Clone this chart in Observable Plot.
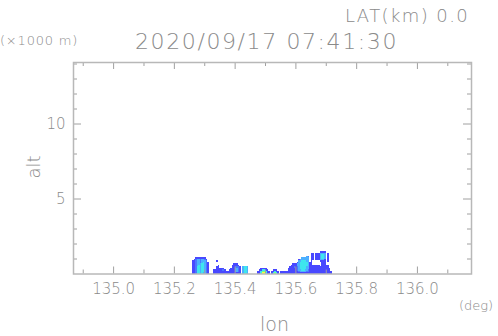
<!DOCTYPE html>
<html><head><meta charset="utf-8">
<script src="https://cdn.jsdelivr.net/npm/d3@7"></script>
<script src="https://cdn.jsdelivr.net/npm/@observablehq/plot@0.6"></script>
<style>
body{margin:0;background:#fff;}
#wrap{position:relative;width:498px;height:336px;font-family:"DejaVu Sans",sans-serif;font-weight:200;color:#8a8a8a;}
.t{position:absolute;white-space:nowrap;line-height:1;}
</style></head><body>
<div id="wrap"></div>
<script>
// ---- data ----
const titleText = "2020/09/17 07:41:30";
const latText = "LAT(km) 0.0";
const yUnit = "(\u00d71000 m)";
const xUnit = "(deg)";
const xLabel = "lon";
const yLabel = "alt";
const xDomain = [134.868, 136.178];
const yDomain = [0, 14.1];
const xMajor = [135.0, 135.2, 135.4, 135.6, 135.8, 136.0];
const xMinor = [134.9, 135.1, 135.3, 135.5, 135.7, 135.9, 136.1];
const yMajor = [5, 10];
const yMinor = [1, 2, 3, 4, 6, 7, 8, 9, 11, 12, 13, 14];
// reflectivity grid: each string is one column (top row = 1.5-1.6 km, bottom row = 0-0.1 km)
const lonStart = 135.25, lonStep = 0.005, altStep = 0.1, nRows = 16;
const levelColors = {"1":"#4848ff","2":"#4a78ff","3":"#4cb0ff","4":"#3ee6ee","5":"#70ff8c","6":"#f4ff40"};
const columns = [
"................","................",
".......111111111","......1111111111",".....12222222222",".....13333344444",".....13333444444",
".....12223333333",".....13334444444",".....13344444443",".....12333333333","......1222222222","........11111111",
"................","................","................",
".............111",".............111",".......1...11111","..........111111","............1111","............1111",
"............1211",".............111","..............11","..............11",".............111","............1111",
"..........111111",".........1111111",".........1123331",".........1123331","..........122221","...........11111",
"................",
"...........33333","...........44444","...........44444","...........33333",
"................","................","................","................","................","................",
"..............11",".............111","............1144","............1456","............1456","............1144",".............111","..............11",
"................",
"..............11",".............114",".............145",".............114","..............11",
"................",
"..............11","..............11","..............11","..............11","..............11",
"............1111","...........11111","..........111111",".........1111111",".........1121111",".........1111111",
"........13322211","......1333333321","......3344444331",".....33444444431",".....33444444431",".....33444444331",
"....333344433321","....233333333221",
"........11111111","..11111111111111","..11111...111111","..........111111","..11111...111111","..11111...111111",
"..11111...111111",".1333331...11111",".134443111111111",".134443111111111",".133331111111111",
"..........111111","..111111..111111","............1111","..............11",
"................","................"
];
// ---- build cells ----
const cells = [];
columns.forEach((col, i) => {
  const s = col.padEnd(nRows, ".");
  for (let r = 0; r < nRows; r++) {
    const c = s[r];
    if (c !== ".") cells.push({lon: lonStart + i * lonStep, alt: (nRows - 1 - r) * altStep, level: c});
  }
});
const W = 498, H = 336, mL = 73, mR = 27, mT = 62, mB = 62.5;
const frameH = H - mT - mB, frameW = W - mL - mR;
const axisColor = "#a0a0a0";
const plot = Plot.plot({
  width: W, height: H,
  marginLeft: mL, marginRight: mR, marginTop: mT, marginBottom: mB,
  style: {fontFamily: "DejaVu Sans, sans-serif", fontWeight: 200, color: "#8a8a8a", background: "#fff"},
  x: {domain: xDomain},
  y: {domain: yDomain},
  marks: [
    Plot.rect(cells, {x1: d => d.lon, x2: d => d.lon + lonStep, y1: d => d.alt, y2: d => d.alt + altStep,
      fill: d => levelColors[d.level], shapeRendering: "crispEdges"}),
    // inside ticks on all four sides
    Plot.tickX(xMajor, {x: d => d, insetTop: frameH - 7, stroke: axisColor}),
    Plot.tickX(xMajor, {x: d => d, insetBottom: frameH - 7, stroke: axisColor}),
    Plot.tickX(xMinor, {x: d => d, insetTop: frameH - 4, stroke: axisColor}),
    Plot.tickX(xMinor, {x: d => d, insetBottom: frameH - 4, stroke: axisColor}),
    Plot.tickY(yMajor, {y: d => d, insetRight: frameW - 8, stroke: axisColor}),
    Plot.tickY(yMajor, {y: d => d, insetLeft: frameW - 8, stroke: axisColor}),
    Plot.tickY(yMinor, {y: d => d, insetRight: frameW - 4, stroke: axisColor}),
    Plot.tickY(yMinor, {y: d => d, insetLeft: frameW - 4, stroke: axisColor}),
    Plot.frame({stroke: "#b8b8b8", strokeWidth: 1.5}),
    Plot.axisX({ticks: xMajor, tickFormat: d3.format(".1f"), tickSize: 0, tickPadding: 9, fontSize: 15, label: null}),
    Plot.axisY({ticks: yMajor, tickFormat: d3.format("d"), tickSize: 0, tickPadding: 8, fontSize: 15, label: null})
  ]
});
const wrap = document.getElementById("wrap");
wrap.appendChild(plot);
function addText(txt, css) {
  const d = document.createElement("div");
  d.className = "t"; d.textContent = txt;
  Object.assign(d.style, css);
  wrap.appendChild(d);
  return d;
}
addText(latText, {left: "345px", top: "7px", fontSize: "18px", letterSpacing: "1.4px"});
addText(titleText, {left: "135px", top: "31px", fontSize: "22px", letterSpacing: "1.6px"});
addText(yUnit, {left: "0px", top: "34px", fontSize: "13px", letterSpacing: "0.8px"});
addText(xUnit, {left: "459px", top: "299px", fontSize: "13px"});
addText(xLabel, {left: "260px", top: "315px", fontSize: "19px"});
addText(yLabel, {left: "22px", top: "158px", fontSize: "18px", transform: "rotate(-90deg)", transformOrigin: "center"});
</script>
</body></html>
